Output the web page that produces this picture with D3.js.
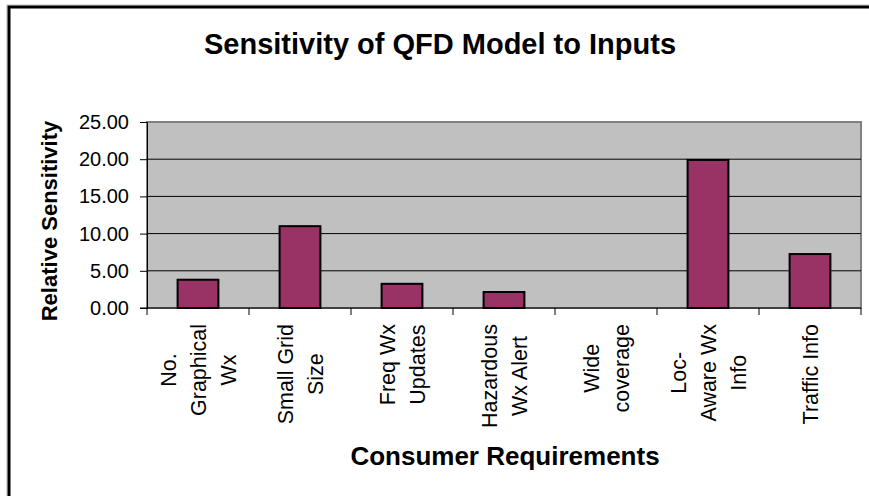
<!DOCTYPE html>
<html>
<head>
<meta charset="utf-8">
<script src="https://cdn.jsdelivr.net/npm/d3@7"></script>
<style>
  html, body { margin: 0; padding: 0; background: #fff; }
  svg { display: block; font-family: Arial, "Liberation Sans", sans-serif; }
</style>
</head>
<body>
<svg id="chart" width="869" height="496"></svg>
<script>
// Consumer requirements (wrapped as in the category axis) and their sensitivity
const categories = [
  "No.\nGraphical\nWx",
  "Small Grid\nSize",
  "Freq Wx\nUpdates",
  "Hazardous\nWx Alert",
  "Wide\ncoverage",
  "Loc-\nAware Wx\nInfo",
  "Traffic Info"
];
const sensitivity = [3.8, 11.0, 3.25, 2.15, 0, 19.9, 7.25];
const yTicks = [0, 5, 10, 15, 20, 25];

const svg = d3.select("#chart");
const plot = { left: 147, right: 861, top: 122, bottom: 308 };

// Outer chart frame (right and bottom edges run past the canvas)
svg.append("rect")
  .attr("x", 7).attr("y", 5).attr("width", 880).attr("height", 520)
  .attr("fill", "none").attr("stroke", "#bbb").attr("stroke-width", 1);
svg.append("rect")
  .attr("x", 9).attr("y", 7).attr("width", 880).attr("height", 520)
  .attr("fill", "none").attr("stroke", "#000").attr("stroke-width", 3);

// Title
svg.append("text")
  .attr("x", 440).attr("y", 54)
  .attr("text-anchor", "middle")
  .attr("font-weight", "bold").attr("font-size", 29)
  .text("Sensitivity of QFD Model to Inputs");

const x = d3.scaleBand()
  .domain(d3.range(categories.length))
  .range([plot.left, plot.right])
  .paddingInner(0.6).paddingOuter(0.3);
const xCat = d3.scaleBand()
  .domain(d3.range(categories.length))
  .range([plot.left, plot.right]);
const y = d3.scaleLinear().domain([0, 25]).range([plot.bottom, plot.top]);

// Plot area background
svg.append("rect")
  .attr("x", plot.left).attr("y", plot.top)
  .attr("width", plot.right - plot.left).attr("height", plot.bottom - plot.top)
  .attr("fill", "#C0C0C0").attr("stroke", "#808080").attr("stroke-width", 2);

// Horizontal gridlines
svg.append("g").selectAll("line")
  .data(yTicks.filter(t => t > 0 && t < 25))
  .join("line")
  .attr("x1", plot.left).attr("x2", plot.right)
  .attr("y1", d => y(d)).attr("y2", d => y(d))
  .attr("stroke", "#000").attr("stroke-width", 1);

// Bars
svg.append("g").selectAll("rect")
  .data(sensitivity)
  .join("rect")
  .attr("x", (d, i) => x(i))
  .attr("width", x.bandwidth())
  .attr("y", d => y(d))
  .attr("height", d => y(0) - y(d))
  .attr("fill", "#993366")
  .attr("stroke", "#000").attr("stroke-width", 2)
  .style("display", d => d > 0 ? null : "none");

// Y axis
const yAxis = d3.axisLeft(y).tickValues(yTicks).tickFormat(d3.format(".2f"))
  .tickSize(7).tickPadding(11);
const gy = svg.append("g").attr("transform", `translate(${plot.left},0)`).call(yAxis);
gy.select(".domain").attr("stroke", "#000");
gy.selectAll(".tick line").attr("stroke", "#000");
gy.selectAll(".tick text").attr("font-size", 20).attr("font-family", "Arial, 'Liberation Sans', sans-serif").attr("fill", "#000");

// X axis: ticks on category boundaries
const boundaries = d3.range(categories.length + 1).map(i => i < categories.length ? xCat(i) : plot.right);
const gx = svg.append("g");
gx.append("line")
  .attr("x1", plot.left - 7).attr("x2", plot.right)
  .attr("y1", plot.bottom).attr("y2", plot.bottom)
  .attr("stroke", "#000");
gx.selectAll("line.tick")
  .data(boundaries)
  .join("line").attr("class", "tick")
  .attr("x1", d => d).attr("x2", d => d)
  .attr("y1", plot.bottom).attr("y2", plot.bottom + 7)
  .attr("stroke", "#000");

// Rotated, wrapped category labels: lines centred on each other,
// the longest line starting just below the axis
const labelSize = 21.5;
const lineH = 30;
const labelTop = plot.bottom + 16;
categories.forEach((c, i) => {
  const lines = c.split("\n");
  const cx = xCat(i) + xCat.bandwidth() / 2;
  const g = svg.append("g");
  const texts = lines.map(ln => g.append("text")
    .attr("font-size", labelSize)
    .attr("text-anchor", "middle")
    .text(ln));
  const maxW = d3.max(texts, t => t.node().getComputedTextLength());
  const cy = labelTop + maxW / 2;
  texts.forEach((t, k) => {
    const off = (k - (lines.length - 1) / 2) * lineH;
    t.attr("transform", `translate(${cx + off + labelSize * 0.36},${cy}) rotate(-90)`);
  });
});

// Axis titles
svg.append("text")
  .attr("transform", "translate(57,221) rotate(-90)")
  .attr("text-anchor", "middle")
  .attr("font-weight", "bold").attr("font-size", 22)
  .text("Relative Sensitivity");
svg.append("text")
  .attr("x", 505).attr("y", 465)
  .attr("text-anchor", "middle")
  .attr("font-weight", "bold").attr("font-size", 26)
  .text("Consumer Requirements");
</script>
</body>
</html>
